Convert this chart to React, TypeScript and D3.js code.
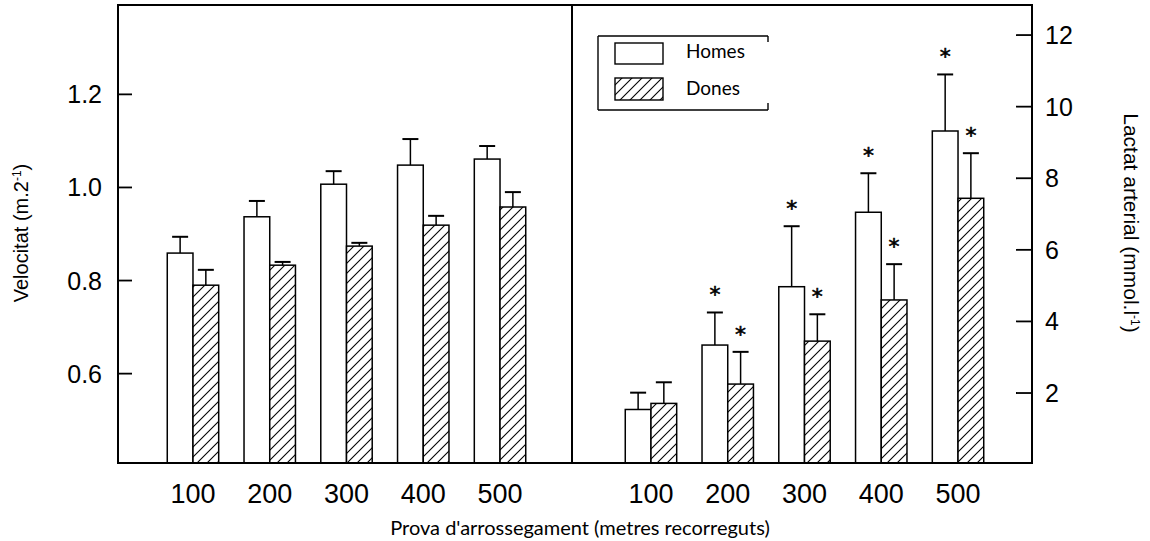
import React from 'react';
import * as d3 from 'd3';

// ---- data ----
const distances: string[] = ['100', '200', '300', '400', '500'];
const seriesNames: string[] = ['Homes', 'Dones'];

// Velocity — mean and SD
const velHomes: number[] = [0.859, 0.937, 1.007, 1.048, 1.061];
const velHomesSD: number[] = [0.035, 0.034, 0.028, 0.056, 0.028];
const velDones: number[] = [0.790, 0.833, 0.874, 0.919, 0.958];
const velDonesSD: number[] = [0.033, 0.007, 0.007, 0.020, 0.032];

// Arterial lactate — mean and SD
const lacHomes: number[] = [1.54, 3.34, 4.97, 7.05, 9.32];
const lacHomesSD: number[] = [0.47, 0.91, 1.69, 1.09, 1.58];
const lacDones: number[] = [1.71, 2.25, 3.45, 4.60, 7.44];
const lacDonesSD: number[] = [0.59, 0.90, 0.75, 1.00, 1.26];
const lacHomesSig: boolean[] = [false, true, true, true, true];
const lacDonesSig: boolean[] = [false, true, true, true, true];

const velTicks: number[] = [0.6, 0.8, 1.0, 1.2];
const lacTicks: number[] = [2, 4, 6, 8, 10, 12];

// ---- layout ----
const W = 1150, H = 541;
const X0 = 118, XMID = 572, X1 = 1032;
const YT = 5, YB = 463;
const NUM = "'Liberation Sans', Arial, sans-serif";
const GILL = "Lato, 'Open Sans', sans-serif";

type Panel = {
  x: d3.ScaleBand<string>;
  y: d3.ScaleLinear<number, number>;
  homes: number[]; homesSD: number[];
  dones: number[]; donesSD: number[];
  homesSig?: boolean[]; donesSig?: boolean[];
};

function Bars({ p }: { p: Panel }) {
  const inner = d3.scaleBand<string>().domain(seriesNames).range([0, p.x.bandwidth()]).padding(0);
  const base = p.y.range()[0];
  const out: React.ReactNode[] = [];
  distances.forEach((d, i) => {
    [0, 1].forEach((s) => {
      const v = s === 0 ? p.homes[i] : p.dones[i];
      const sd = s === 0 ? p.homesSD[i] : p.donesSD[i];
      const sig = s === 0 ? p.homesSig?.[i] : p.donesSig?.[i];
      const x = (p.x(d) as number) + (inner(seriesNames[s]) as number);
      const w = inner.bandwidth();
      const yTop = p.y(v);
      const yErr = p.y(v + sd);
      const cx = x + w / 2;
      out.push(
        <g key={`${d}-${s}`}>
          <line x1={cx} x2={cx} y1={yTop} y2={yErr} stroke="#000" strokeWidth={1.5} />
          <line x1={cx - 8} x2={cx + 8} y1={yErr} y2={yErr} stroke="#000" strokeWidth={2} />
          <rect x={x} y={yTop} width={w} height={base - yTop}
            fill={s === 0 ? '#fff' : 'url(#hatch)'} stroke="#000" strokeWidth={1.5} />
          {sig && (
            <text x={cx} y={yErr - 10} textAnchor="middle" fontFamily="'DejaVu Sans', sans-serif"
              fontSize={22} fill="#000" stroke="#000" strokeWidth={0.6}>*</text>
          )}
        </g>
      );
    });
  });
  return <g>{out}</g>;
}

export default function App() {
  const xLeft = d3.scaleBand<string>().domain(distances).range([154.6, 538.4]).paddingInner(0.33).paddingOuter(0.165);
  const xRight = d3.scaleBand<string>().domain(distances).range([612.6, 996.4]).paddingInner(0.33).paddingOuter(0.165);
  const yVel = d3.scaleLinear().domain([0.408, 1.392]).range([YB, YT]);
  const yLac = d3.scaleLinear().domain([0.045, 12.84]).range([YB, YT]);

  const left: Panel = { x: xLeft, y: yVel, homes: velHomes, homesSD: velHomesSD, dones: velDones, donesSD: velDonesSD };
  const right: Panel = {
    x: xRight, y: yLac, homes: lacHomes, homesSD: lacHomesSD, dones: lacDones, donesSD: lacDonesSD,
    homesSig: lacHomesSig, donesSig: lacDonesSig,
  };

  return (
    <svg width={W} height={H} style={{ position: 'absolute', left: 0, top: 0, background: '#fff' }}>
      <defs>
        <pattern id="hatch" patternUnits="userSpaceOnUse" width={10} height={10}>
          <rect width={10} height={10} fill="#fff" />
          <path d="M-2,12 L12,-2" stroke="#000" strokeWidth={1.1} />
          <path d="M-2,2 L2,-2 M8,12 L12,8" stroke="#000" strokeWidth={1.1} />
        </pattern>
      </defs>

      <Bars p={left} />
      <Bars p={right} />

      {/* frame */}
      <rect x={X0} y={YT} width={X1 - X0} height={YB - YT} fill="none" stroke="#000" strokeWidth={2} />
      <line x1={XMID} x2={XMID} y1={YT} y2={YB} stroke="#000" strokeWidth={2} />

      {/* left ticks */}
      {velTicks.map((t) => (
        <g key={`lt${t}`}>
          <line x1={X0} x2={X0 + 14} y1={yVel(t)} y2={yVel(t)} stroke="#000" strokeWidth={1.8} />
          <text x={102} y={yVel(t)} dy="0.36em" textAnchor="end" fontFamily={NUM} fontSize={25}>{d3.format('.1f')(t)}</text>
        </g>
      ))}
      {/* right ticks */}
      {lacTicks.map((t) => (
        <g key={`rt${t}`}>
          <line x1={X1 - 16} x2={X1} y1={yLac(t)} y2={yLac(t)} stroke="#000" strokeWidth={1.8} />
          <text x={1045} y={yLac(t)} dy="0.36em" textAnchor="start" fontFamily={NUM} fontSize={25}>{t}</text>
        </g>
      ))}

      {/* x labels */}
      {distances.map((d) => (
        <g key={`xl${d}`}>
          <text x={(xLeft(d) as number) + xLeft.bandwidth() / 2} y={503} textAnchor="middle" fontFamily={NUM} fontSize={27}>{d}</text>
          <text x={(xRight(d) as number) + xRight.bandwidth() / 2} y={503} textAnchor="middle" fontFamily={NUM} fontSize={27}>{d}</text>
        </g>
      ))}

      {/* axis titles */}
      <text x={580} y={535} textAnchor="middle" fontFamily={GILL} fontSize={20}>Prova d'arrossegament (metres recorreguts)</text>
      <text transform="translate(28,233) rotate(-90)" textAnchor="middle" fontFamily={NUM} fontSize={20}>
        Velocitat (m.2<tspan dy={-7} fontSize={12}>-1</tspan><tspan dy={7}>)</tspan>
      </text>
      <text transform="translate(1124,223) rotate(90)" textAnchor="middle" fontFamily={NUM} fontSize={21}>
        Lactat arterial (mmol.l<tspan dy={-7} fontSize={12}>-1</tspan><tspan dy={7}>)</tspan>
      </text>

      {/* legend */}
      <g>
        <line x1={598} x2={768} y1={36} y2={36} stroke="#000" strokeWidth={1.4} />
        <line x1={598} x2={598} y1={36} y2={110} stroke="#000" strokeWidth={1.4} />
        <line x1={598} x2={768} y1={110} y2={110} stroke="#000" strokeWidth={1.4} />
        <line x1={768} x2={768} y1={36} y2={42} stroke="#000" strokeWidth={1.4} />
        <line x1={768} x2={768} y1={103} y2={110} stroke="#000" strokeWidth={1.4} />
        <rect x={615} y={43} width={48} height={21} fill="#fff" stroke="#000" strokeWidth={1.4} />
        <rect x={615} y={78} width={48} height={22} fill="url(#hatch)" stroke="#000" strokeWidth={1.4} />
        <text x={686} y={58} fontFamily={GILL} fontSize={19}>{seriesNames[0]}</text>
        <text x={686} y={95} fontFamily={GILL} fontSize={19}>{seriesNames[1]}</text>
      </g>
    </svg>
  );
}
